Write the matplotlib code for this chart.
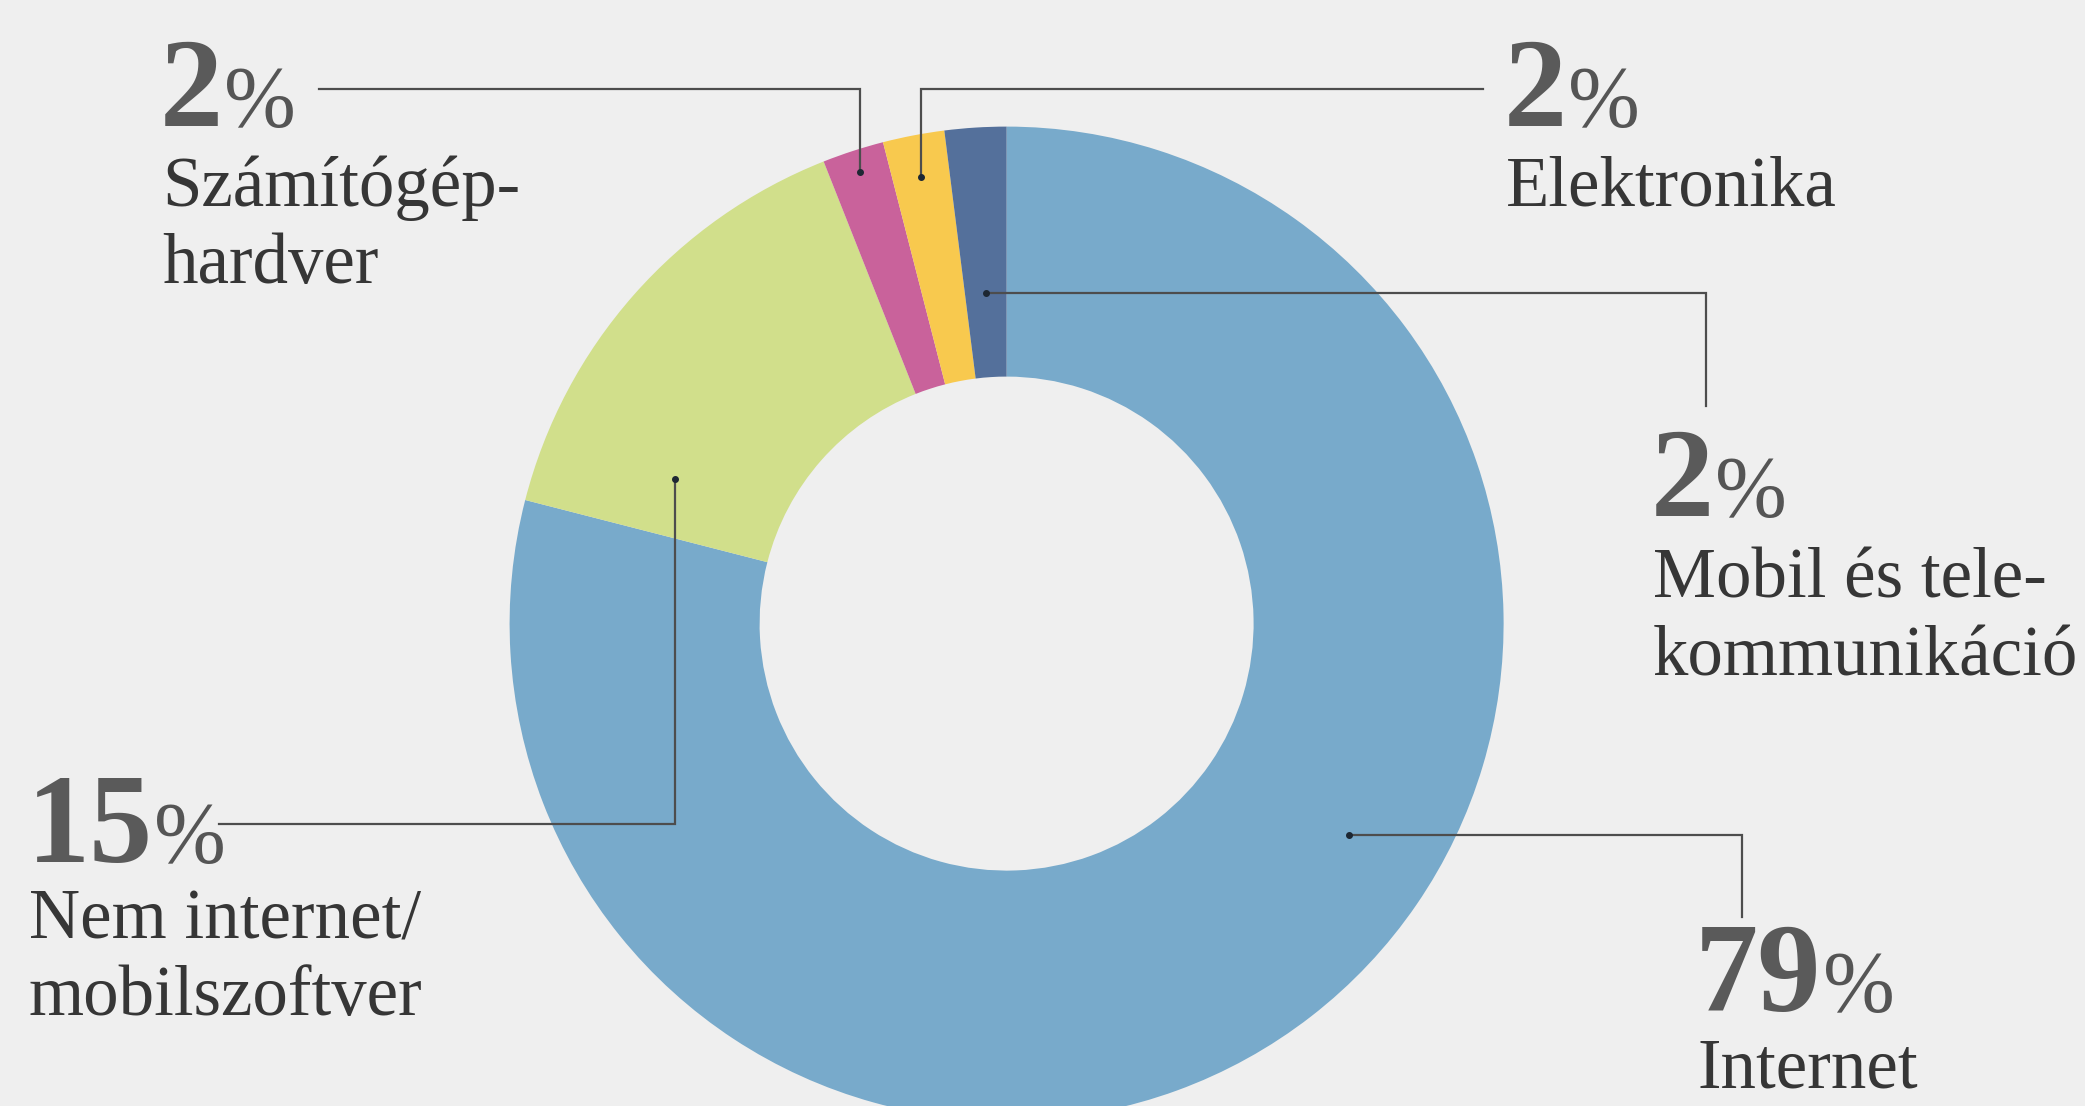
import numpy as np
import matplotlib
matplotlib.use("Agg")
import matplotlib.pyplot as plt

# data, clockwise from 12 o'clock
categories = ["Internet", "Nem internet/\nmobilszoftver", "Számítógép-\nhardver",
              "Elektronika", "Mobil és tele-\nkommunikáció"]
shares = [79, 15, 2, 2, 2]
colors = ["#78aacb", "#d1df8b", "#c9629b", "#f8c94e", "#54709b"]

# layout (pixel coordinates of the 2085x1106 canvas, y downwards)
W, H = 2085, 1106
center = (1006.6, 623.6)
radius = 497
ring = 250
anchor_frac = [0.428, 0.17, 0.5, 0.5, 0.5]     # where along the wedge the dot sits
anchor_r = [0.81, 0.727, 0.956, 0.914, 0.667]  # dot distance, fraction of radius
leader_first = ["h", "v", "v", "v", "h"]
leader_end = [(1742, 917), (219, 824), (319, 89), (1483, 89), (1706, 406)]
num_x = [1695, 27, 160, 1504, 1651]
num_base = [1011, 862, 126, 126, 516]
label_base = [1088, 938, 206, 206, 598]
line_step = 77

serif = "Liberation Serif"
fig = plt.figure(figsize=(W / 100, H / 100), dpi=100)
fig.patch.set_facecolor("#efefef")
ax = fig.add_axes([0, 0, 1, 1])
ax.set_facecolor("#efefef")

# y axis is flipped, so counterclock=True runs clockwise on screen
wedges, _ = ax.pie(shares, colors=colors, startangle=-90, counterclock=True,
                   center=center, radius=radius,
                   wedgeprops=dict(width=ring, linewidth=0))
ax.set_xlim(0, W)
ax.set_ylim(H, 0)
ax.set_aspect("equal")
ax.axis("off")

for i, w in enumerate(wedges):
    th = np.deg2rad(w.theta1 + anchor_frac[i] * (w.theta2 - w.theta1))
    ax_x = center[0] + anchor_r[i] * radius * np.cos(th)
    ax_y = center[1] + anchor_r[i] * radius * np.sin(th)
    ex, ey = leader_end[i]
    corner = (ax_x, ey) if leader_first[i] == "v" else (ex, ax_y)
    ax.plot([ax_x, corner[0], ex], [ax_y, corner[1], ey], color="#4d4d4d", lw=1.6,
            solid_joinstyle="miter", zorder=3)
    ax.plot(ax_x, ax_y, "o", ms=4, color="#1d2733", zorder=4)

renderer = fig.canvas.get_renderer()
inv = ax.transData.inverted()
for i, cat in enumerate(categories):
    t = ax.text(num_x[i], num_base[i], str(shares[i]), family=serif, weight="bold",
                size=91, color="#5a5a5a", ha="left", va="baseline")
    bb = t.get_window_extent(renderer)
    right = inv.transform((bb.x1, bb.y0))[0]
    ax.text(right + 1, num_base[i], "%", family=serif, size=62, color="#555555",
            ha="left", va="baseline")
    for j, line in enumerate(cat.split("\n")):
        ax.text(num_x[i] + 2, label_base[i] + j * line_step, line, family=serif,
                size=51, color="#363636", ha="left", va="baseline")

fig.savefig("out.png", dpi=100, facecolor=fig.get_facecolor())
